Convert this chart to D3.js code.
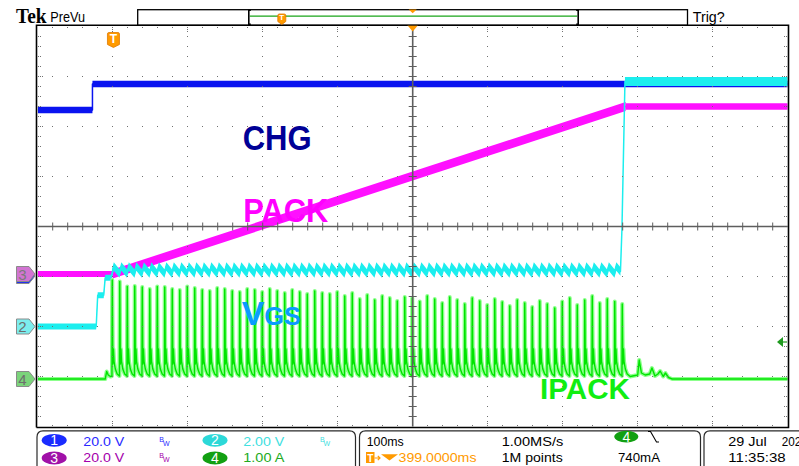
<!DOCTYPE html>
<html>
<head>
<meta charset="utf-8">
<script src="https://cdn.jsdelivr.net/npm/d3@7/dist/d3.min.js"></script>
<style>
  html, body { margin: 0; padding: 0; background: #fff; }
  svg { display: block; }
</style>
</head>
<body>
<svg id="scope" width="799" height="466"></svg>
<script>
// ---- acquisition settings ----
const timePerDiv = 100;      // ms per division
const horizDelay = 399;      // ms from trigger to screen centre
const divisionsX = 10, divisionsY = 8;

// ---- channel settings: units per division, ground position (divisions from centre) ----
const chgScale = 20,  chgOffset = -0.99;   // CH1, V
const vgsScale = 2,   vgsOffset = -2.0;    // CH2, V
const packScale = 20, packOffset = -0.95;  // CH3, V
const ipackScale = 1, ipackOffset = -3.05; // CH4, A
const trigLevel = 0.74;                    // A on CH4

// ---- CH1 CHG (V) ----
const chgTimes  = [-101, -28, -28, 899];
const chgValues = [66.4, 66.4, 76.8, 76.8];

// ---- CH3 PACK (V) ----
const packTimes  = [-101, -1, 683, 899];
const packValues = [0, 0, 67, 67];

// ---- CH2 VGS (V) ----
const vgsStartTimes  = [-101, -23, -21, -13, -11, -3];
const vgsStartValues = [0, 0, 1.25, 1.25, 1.95, 1.95];
const vgsEndTimes  = [676, 678, 682, 899];
const vgsEndValues = [2.2, 3.9, 9.8, 9.8];
const vgsRippleLow = 2.12, vgsRippleHigh = 2.4;

// ---- CH4 IPACK (A) ----
const ipackPreTimes  = [-101, -11, -9, -7, -4, -2];
const ipackPreValues = [0, 0, 0.15, 0.08, 0.05, 0.06];
const pulseTimes = [
  -2, 8, 18, 28, 38, 48, 58, 68, 78, 88,
  98, 108, 118, 128, 138, 148, 158, 168, 178, 188,
  198, 208, 218, 228, 238, 248, 258, 268, 278, 288,
  298, 308, 318, 328, 338, 348, 358, 368, 378, 388,
  398, 408, 418, 428, 438, 448, 458, 468, 478, 488,
  498, 508, 518, 528, 538, 548, 558, 568, 578, 588,
  598, 608, 618, 628, 638, 648, 658, 668, 678
];
const pulsePeaks = [
  1.98, 1.95, 1.85, 1.86, 1.84, 1.80, 1.85, 1.84, 1.80, 1.78,
  1.85, 1.82, 1.78, 1.76, 1.82, 1.80, 1.76, 1.74, 1.80, 1.78,
  1.74, 1.80, 1.76, 1.72, 1.78, 1.74, 1.70, 1.76, 1.72, 1.70,
  1.74, 1.66, 1.72, 1.60, 1.68, 1.58, 1.66, 1.62, 1.56, 1.64,
  1.62, 1.55, 1.66, 1.60, 1.52, 1.64, 1.58, 1.50, 1.62, 1.56,
  1.48, 1.60, 1.54, 1.46, 1.58, 1.52, 1.44, 1.56, 1.50, 1.42,
  1.55, 1.62, 1.48, 1.58, 1.66, 1.52, 1.60, 1.55, 1.50
];
// current pulse after the peak: offset (ms) from pulse start, level (A)
const pulseTailOffsets = [1.2, 2.0, 2.8, 4.5, 7.0];
const pulseTailValues  = [0.30, 0.60, 0.35, 0.20, 0.10];
const pulseBase = 0.06, pulseRise = 0.4;
const ipackPostTimes  = [689, 699, 701, 704, 709, 715, 718, 722, 726, 729, 733, 736, 740, 745, 899];
const ipackPostValues = [0.05, 0.08, 0.38, 0.12, 0.08, 0.10, 0.22, 0.06, 0.10, 0.16, 0.05, 0.12, 0.03, 0, 0];

// ---- readouts ----
const chanReadouts = [
  { n: "1", text: "20.0 V", color: "#2a2aff", badge: "#1a2cff", col: 0, row: 0, bw: true },
  { n: "3", text: "20.0 V", color: "#a400ac", badge: "#a010a8", col: 0, row: 1, bw: true },
  { n: "2", text: "2.00 V", color: "#3fe0e0", badge: "#2cd8d8", col: 1, row: 0, bw: true },
  { n: "4", text: "1.00 A", color: "#22aa22", badge: "#12a012", col: 1, row: 1, bw: false }
];
const timebaseText = "100ms", delayText = "399.0000ms";
const sampleRateText = "1.00MS/s", recordText = "1M points";
const trigLevelText = "740mA";
const dateText = "29 Jul", yearText = "2021", clockText = "11:35:38";

// ================= drawing =================
const svg = d3.select("#scope");
const X0 = 37.7, X1 = 787.7, Y0 = 26.5, Y1 = 426.5;
const x = d3.scaleLinear()
  .domain([horizDelay - timePerDiv * divisionsX / 2, horizDelay + timePerDiv * divisionsX / 2])
  .range([X0, X1]);
const yDiv = d3.scaleLinear().domain([-divisionsY / 2, divisionsY / 2]).range([Y1, Y0]);
const chan = (scale, offset) => v => yDiv(offset + v / scale);
const yChg = chan(chgScale, chgOffset), yVgs = chan(vgsScale, vgsOffset);
const yPack = chan(packScale, packOffset), yI = chan(ipackScale, ipackOffset);
const zip = (ts, vs) => ts.map((t, i) => ({ t, v: vs[i] }));

svg.append("defs").append("clipPath").attr("id", "screen")
  .append("rect").attr("x", X0).attr("y", Y0).attr("width", X1 - X0).attr("height", Y1 - Y0);

const traces = svg.append("g").attr("clip-path", "url(#screen)");

function band(pts, ys, half, color) {
  traces.append("path").datum(pts)
    .attr("d", d3.area().x(d => x(d.t)).y0(d => ys(d.v) + half).y1(d => ys(d.v) - half))
    .attr("fill", color);
}
function line(pts, ys, w, color) {
  traces.append("path").datum(pts)
    .attr("d", d3.line().x(d => x(d.t)).y(d => ys(d.v)))
    .attr("fill", "none").attr("stroke", color).attr("stroke-width", w)
    .attr("stroke-linejoin", "round");
}

// CH1 CHG
const chgPts = zip(chgTimes, chgValues);
const chgBlue = "#0a14f0";
band(chgPts, yChg, 3.2, chgBlue);
line(chgPts, yChg, 1.5, chgBlue);

// CH3 PACK
const packPts = zip(packTimes, packValues);
const packMag = "#ff10ff";
band(packPts.slice(0, 2), yPack, 3.0, packMag);
band(packPts.slice(1, 3), yPack, 4.5, packMag);
band(packPts.slice(2), yPack, 3.2, packMag);
line(packPts, yPack, 1.5, packMag);

// CH2 VGS
const vgsCyan = "#1ceeee";
const vgsStart = zip(vgsStartTimes, vgsStartValues);
const vgsRipple = [];
pulseTimes.filter(t => t < vgsEndTimes[0]).forEach(t => {
  vgsRipple.push({ t, v: vgsRippleLow }, { t: t + 2.5, v: vgsRippleHigh });
});
vgsRipple.push({ t: vgsEndTimes[0], v: vgsEndValues[0] });
const vgsEnd = zip(vgsEndTimes, vgsEndValues);
band(vgsStart, yVgs, 3, vgsCyan);
band(vgsRipple, yVgs, 4.3, vgsCyan);
band(vgsEnd.slice(2), yVgs, 4.4, vgsCyan);
line(vgsStart.concat(vgsRipple, vgsEnd), yVgs, 1.5, vgsCyan);

// CH4 IPACK
const iPts = zip(ipackPreTimes, ipackPreValues);
pulseTimes.forEach((t, i) => {
  iPts.push({ t, v: pulseBase }, { t: t + pulseRise, v: pulsePeaks[i] });
  pulseTailOffsets.forEach((o, j) => iPts.push({ t: t + o, v: pulseTailValues[j] }));
});
zip(ipackPostTimes, ipackPostValues).forEach(p => iPts.push(p));
line(iPts, yI, 4, "#8cff8c");
line(iPts, yI, 1.4, "#00e400");

// ---- graticule (drawn over the traces) ----
const grat = svg.append("g");
const dotColor = "#707070";
const xMajor = d3.range(0, divisionsX + 1).map(i => X0 + i * (X1 - X0) / divisionsX);
const yMajor = d3.range(0, divisionsY + 1).map(i => Y0 + i * (Y1 - Y0) / divisionsY);
const xMinor = d3.range(0, divisionsX * 5 + 1).map(i => X0 + i * (X1 - X0) / (divisionsX * 5));
const yMinor = d3.range(0, divisionsY * 5 + 1).map(i => Y0 + i * (Y1 - Y0) / (divisionsY * 5));
const dots = [];
xMajor.slice(1, -1).forEach((gx, i) => {
  if (i + 1 === divisionsX / 2) return;
  yMinor.slice(1, -1).forEach(gy => dots.push([gx, gy]));
});
yMajor.slice(1, -1).forEach((gy, i) => {
  if (i + 1 === divisionsY / 2) return;
  xMinor.slice(1, -1).forEach(gx => dots.push([gx, gy]));
});
// border ticks
xMinor.slice(1, -1).forEach((gx, i) => {
  const n = (i + 1) % 5 === 0 ? 3 : 1;
  for (let k = 0; k < n; k++) { dots.push([gx, Y0 + 1 + k * 2]); dots.push([gx, Y1 - 1 - k * 2]); }
});
yMinor.slice(1, -1).forEach((gy, i) => {
  const n = (i + 1) % 5 === 0 ? 3 : 2;
  for (let k = 0; k < n; k++) { dots.push([X0 + 1 + k * 2, gy]); dots.push([X1 - 1.5 - k * 2, gy]); }
});
grat.selectAll("rect.dot").data(dots).join("rect").attr("class", "dot")
  .attr("x", d => Math.round(d[0] - 0.5)).attr("y", d => Math.round(d[1] - 0.5))
  .attr("width", 1).attr("height", 1).attr("fill", dotColor);

const cx = (X0 + X1) / 2, cy = (Y0 + Y1) / 2;
const crossColor = "#5e5e5e";
grat.append("line").attr("x1", X0).attr("x2", X1).attr("y1", cy).attr("y2", cy)
  .attr("stroke", crossColor).attr("stroke-width", 1.6);
grat.append("line").attr("x1", cx).attr("x2", cx).attr("y1", Y0).attr("y2", Y1)
  .attr("stroke", crossColor).attr("stroke-width", 1.6);
grat.selectAll("line.ht").data(xMinor.slice(1, -1)).join("line").attr("class", "ht")
  .attr("x1", d => d).attr("x2", d => d).attr("y1", cy - 4).attr("y2", cy + 4)
  .attr("stroke", crossColor).attr("stroke-width", 1);
grat.selectAll("line.vt").data(yMinor.slice(1, -1)).join("line").attr("class", "vt")
  .attr("y1", d => d).attr("y2", d => d).attr("x1", cx - 4).attr("x2", cx + 4)
  .attr("stroke", crossColor).attr("stroke-width", 1);

// frame
grat.append("path")
  .attr("d", `M${X0 - 1.2},${Y1 + 1} V${Y0 - 1.2} H${X1 + 0.8} V${Y1 + 1} H${X0 - 1.2}`)
  .attr("fill", "none").attr("stroke", "#000").attr("stroke-width", 1.6);

// ---- waveform labels ----
const lbl = svg.append("g").attr("font-family", "'Liberation Sans', Arial, sans-serif").attr("font-weight", "bold");
lbl.append("text").attr("x", 242.7).attr("y", 150).attr("font-size", 35)
  .attr("textLength", 69).attr("lengthAdjust", "spacingAndGlyphs").attr("fill", "#000096").text("CHG");
lbl.append("text").attr("x", 243.3).attr("y", 222).attr("font-size", 34)
  .attr("textLength", 85).attr("lengthAdjust", "spacingAndGlyphs").attr("fill", "#ff00ff").text("PACK");
lbl.append("text").attr("x", 241.7).attr("y", 325).attr("font-size", 34).attr("fill", "#0a9bff").text("V");
lbl.append("text").attr("x", 264.3).attr("y", 325).attr("font-size", 25.5)
  .attr("textLength", 36.7).attr("lengthAdjust", "spacingAndGlyphs").attr("fill", "#0a9bff").text("GS");
lbl.append("text").attr("x", 540).attr("y", 398.5).attr("font-size", 29)
  .attr("textLength", 90).attr("lengthAdjust", "spacingAndGlyphs").attr("fill", "#11ee11").text("IPACK");

// ---- ground markers ----
function marker(gy, fill, label, textColor) {
  const g = svg.append("g");
  g.append("path")
    .attr("d", `M16.5,${gy - 7.5} H29 L35,${gy} L29,${gy + 7.5} H16.5 Z`)
    .attr("fill", fill).attr("stroke", "#8a8a8a").attr("stroke-width", 1);
  if (label) g.append("text").attr("x", 22.5).attr("y", gy + 5.5).attr("text-anchor", "middle")
    .attr("font-family", "'Liberation Sans', Arial, sans-serif").attr("font-size", 15)
    .attr("fill", textColor).text(label);
}
marker(yChg(0), "#2233ee", null, null);
marker(yPack(0), "#d274d2", "3", "#7a7a7a");
marker(yVgs(0), "#7ceeee", "2", "#6e6e6e");
marker(yI(0), "#7bd47b", "4", "#6e6e6e");

// trigger level marker on the right
const ty = yI(trigLevel);
svg.append("path").attr("d", `M777,${ty} L783,${ty - 5} L783,${ty + 5} Z`).attr("fill", "#1f9a1f");
svg.append("line").attr("x1", 782).attr("x2", 787).attr("y1", ty).attr("y2", ty)
  .attr("stroke", "#1f9a1f").attr("stroke-width", 1.2);

// trigger position badge
const orange = "#ff9a00";
function tBadge(bx, by, w, h, fs) {
  const g = svg.append("g");
  g.append("path")
    .attr("d", `M${bx},${by + 1.5} Q${bx},${by} ${bx + 1.5},${by} H${bx + w - 1.5} Q${bx + w},${by} ${bx + w},${by + 1.5} V${by + h - 3} L${bx + w / 2},${by + h} L${bx},${by + h - 3} Z`)
    .attr("fill", orange).attr("stroke", "#e07800").attr("stroke-width", 0.8);
  g.append("text").attr("x", bx + w / 2).attr("y", by + h - 4.5).attr("text-anchor", "middle")
    .attr("font-family", "'Liberation Sans', Arial, sans-serif").attr("font-weight", "bold")
    .attr("font-size", fs).attr("fill", "#fff").text("T");
}
tBadge(x(0) - 6, 32.5, 12, 15, 12);

// expansion point triangle
svg.append("path").attr("d", `M${cx - 5.5},25 L${cx + 5.5},25 L${cx},31.5 Z`).attr("fill", orange);

// ---- top status bar ----
const topBar = svg.append("g");
topBar.append("text").attr("x", 16).attr("y", 23.3).attr("font-family", "'Liberation Serif', 'Times New Roman', serif")
  .attr("font-weight", "bold").attr("font-size", 20).attr("textLength", 30.5).attr("lengthAdjust", "spacingAndGlyphs")
  .attr("fill", "#000").text("Tek");
topBar.append("text").attr("x", 50.3).attr("y", 21.7).attr("font-family", "'Liberation Sans', Arial, sans-serif")
  .attr("font-size", 14.5).attr("textLength", 34.7).attr("lengthAdjust", "spacingAndGlyphs")
  .attr("fill", "#000").text("PreVu");
topBar.append("rect").attr("x", 137.7).attr("y", 9.7).attr("width", 549.8).attr("height", 15.3)
  .attr("fill", "#fff").attr("stroke", "#000").attr("stroke-width", 1.3);
const recL = 248.8, recR = 578.2;
topBar.append("line").attr("x1", recL + 1).attr("x2", recR - 1).attr("y1", 16.2).attr("y2", 16.2)
  .attr("stroke", "#18a418").attr("stroke-width", 1.3);
topBar.append("path").attr("d", `M${recL + 2},10.3 H${recL} V24.3 H${recL + 2}`).attr("fill", "none")
  .attr("stroke", "#000").attr("stroke-width", 1.6);
topBar.append("path").attr("d", `M${recR - 2},10.3 H${recR} V24.3 H${recR - 2}`).attr("fill", "none")
  .attr("stroke", "#000").attr("stroke-width", 1.6);
tBadge(277.8, 14, 8, 10.5, 8);
topBar.append("path").attr("d", `M${cx - 4},9.5 L${cx + 4},9.5 L${cx},13.3 Z`).attr("fill", orange);
topBar.append("text").attr("x", 692.7).attr("y", 21.7).attr("font-family", "'Liberation Sans', Arial, sans-serif")
  .attr("font-size", 15).attr("textLength", 32).attr("lengthAdjust", "spacingAndGlyphs")
  .attr("fill", "#000").text("Trig?");

// ---- bottom readout panels ----
const bot = svg.append("g").attr("font-family", "'Liberation Sans', Arial, sans-serif");
function panel(xa, xb) {
  bot.append("path")
    .attr("d", `M${xa},480 V437 Q${xa},430.8 ${xa + 6},430.8 H${xb - 6} Q${xb},430.8 ${xb},437 V480`)
    .attr("fill", "none").attr("stroke", "#2a2a2a").attr("stroke-width", 1.2);
}
panel(37, 355.5);
panel(359.5, 700.5);
panel(704, 830);

const rowBase = [446, 462.3], rowMid = [440.3, 458];
const colBadge = [54.2, 215], colText = [83.3, 243.3], colBw = [159.3, 320];
function badge(bx, by, rx, ry, fill, n) {
  bot.append("ellipse").attr("cx", bx).attr("cy", by).attr("rx", rx).attr("ry", ry).attr("fill", fill);
  bot.append("text").attr("x", bx).attr("y", by + 5).attr("text-anchor", "middle")
    .attr("font-size", 14).attr("fill", "#fff").text(n);
}
chanReadouts.forEach(c => {
  badge(colBadge[c.col], rowMid[c.row], 12.5, 6.4, c.badge, c.n);
  bot.append("text").attr("x", colText[c.col]).attr("y", rowBase[c.row]).attr("font-size", 13.5)
    .attr("textLength", 41).attr("lengthAdjust", "spacingAndGlyphs").attr("fill", c.color).text(c.text);
  if (c.bw) {
    bot.append("text").attr("x", colBw[c.col]).attr("y", rowBase[c.row] - 4.5).attr("font-size", 7)
      .attr("fill", c.color).text("B");
    bot.append("text").attr("x", colBw[c.col] + 3.6).attr("y", rowBase[c.row] - 0.3).attr("font-size", 7)
      .attr("fill", c.color).text("W");
  }
});

bot.append("text").attr("x", 366.7).attr("y", rowBase[0]).attr("font-size", 13.5)
  .attr("textLength", 37).attr("lengthAdjust", "spacingAndGlyphs").attr("fill", "#000").text(timebaseText);
bot.append("rect").attr("x", 366).attr("y", 452).attr("width", 8.5).attr("height", 11).attr("fill", orange);
bot.append("text").attr("x", 370.2).attr("y", 461.5).attr("text-anchor", "middle").attr("font-size", 10)
  .attr("font-weight", "bold").attr("fill", "#fff").text("T");
bot.append("path").attr("d", "M374.5,458 H380 M377.8,455.8 L380,458 L377.8,460.2").attr("fill", "none")
  .attr("stroke", orange).attr("stroke-width", 1.2);
bot.append("path").attr("d", "M381,454.3 L398,454.3 L389.5,460.5 Z").attr("fill", orange);
bot.append("text").attr("x", 398.5).attr("y", rowBase[1]).attr("font-size", 13.5)
  .attr("textLength", 78).attr("lengthAdjust", "spacingAndGlyphs").attr("fill", orange).text(delayText);
bot.append("text").attr("x", 501.7).attr("y", rowBase[0]).attr("font-size", 13.5)
  .attr("textLength", 61.7).attr("lengthAdjust", "spacingAndGlyphs").attr("fill", "#000").text(sampleRateText);
bot.append("text").attr("x", 501.7).attr("y", rowBase[1]).attr("font-size", 13.5)
  .attr("textLength", 61).attr("lengthAdjust", "spacingAndGlyphs").attr("fill", "#000").text(recordText);

badge(626.3, 436.6, 12, 5.8, "#12a012", "4");
bot.append("path").attr("d", "M648,431.5 H650.5 L656.5,442 H659").attr("fill", "none")
  .attr("stroke", "#000").attr("stroke-width", 1.1);
bot.append("text").attr("x", 618).attr("y", rowBase[1]).attr("font-size", 13.5)
  .attr("textLength", 42).attr("lengthAdjust", "spacingAndGlyphs").attr("fill", "#000").text(trigLevelText);

bot.append("text").attr("x", 728.3).attr("y", rowBase[0]).attr("font-size", 13.5)
  .attr("textLength", 38.4).attr("lengthAdjust", "spacingAndGlyphs").attr("fill", "#000").text(dateText);
bot.append("text").attr("x", 781.7).attr("y", rowBase[0]).attr("font-size", 13.5)
  .attr("textLength", 26).attr("lengthAdjust", "spacingAndGlyphs").attr("fill", "#000").text(yearText);
bot.append("text").attr("x", 728.3).attr("y", rowBase[1]).attr("font-size", 13.5)
  .attr("textLength", 57.4).attr("lengthAdjust", "spacingAndGlyphs").attr("fill", "#000").text(clockText);
</script>
</body>
</html>
